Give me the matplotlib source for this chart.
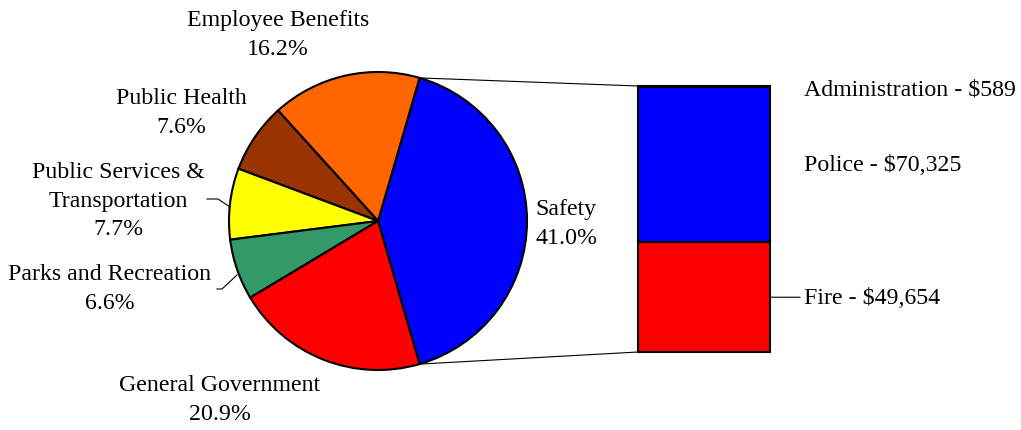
import numpy as np
import matplotlib.pyplot as plt
from matplotlib.patches import ConnectionPatch

# pie data (percent)
categories = ['Safety', 'Employee Benefits', 'Public Health',
              'Public Services &\nTransportation', 'Parks and Recreation',
              'General Government']
shares = [41.0, 16.2, 7.6, 7.7, 6.6, 20.9]
colors = ['#0000FF', '#FF6600', '#993300', '#FFFF00', '#339966', '#FF0000']

# safety breakdown (bottom to top)
sub_names = ['Fire', 'Police', 'Administration']
sub_values = [49654, 70325, 589]
sub_colors = ['#FF0000', '#0000FF', '#0000FF']

plt.rcParams['font.family'] = 'Liberation Serif'
FONT = 17.2
LSP = 1.48
LW = 1.5
H = 431

fig = plt.figure(figsize=(10.21, 4.31), dpi=100)
ax = fig.add_axes([0, 0, 1, 1])

center = (378, H - 222)
radius = 149
start = -shares[0] * 360 / 100 / 2
wedges, _ = ax.pie(shares, colors=colors, startangle=start, counterclock=True,
                   center=center, radius=radius,
                   wedgeprops=dict(edgecolor='black', linewidth=LW))
ax.set_xlim(0, 1021)
ax.set_ylim(0, H)
ax.set_aspect('equal')
ax.axis('off')

# labels (positions in pixels)
label_pos = [(566, 224), (278, 35), (181, 113), (118, 201), (110, 289), (220, 400)]
for name, pct, (x, y) in zip(categories, shares, label_pos):
    ax.text(x, H - y, f'{name}\n{pct:.1f}%', ha='center', va='center',
            fontsize=FONT, linespacing=LSP)

# leader lines
ax.plot([207, 218, 230], [H - 200, H - 200, H - 208], color='black', lw=0.8)
ax.plot([217, 222, 237], [H - 290, H - 290, H - 276], color='black', lw=0.8)

# bar of pie
bx0, bx1, by0, by1 = 638, 770, 87, 353
axb = fig.add_axes([bx0 / 1021, (H - by1) / H, (bx1 - bx0) / 1021, (by1 - by0) / H])
total = sum(sub_values)
bottom = 0
mids = []
for name, val, col in zip(sub_names, sub_values, sub_colors):
    axb.bar(0, val, bottom=bottom, width=1, color=col, edgecolor='black',
            linewidth=LW, clip_on=False)
    mids.append(bottom + val / 2)
    bottom += val
axb.set_xlim(-0.5, 0.5)
axb.set_ylim(0, total)
axb.axis('off')

trans = axb.get_yaxis_transform()
for name, val, mid in zip(sub_names, sub_values, mids):
    label = f'{name} - ${val:,}'
    if name == 'Fire':
        axb.annotate(label, xy=(1.0, mid), xytext=(1.26, mid),
                     textcoords=trans, xycoords=trans,
                     va='center', ha='left', fontsize=FONT,
                     arrowprops=dict(arrowstyle='-', lw=0.8, color='black',
                                     shrinkA=1, shrinkB=0))
    else:
        axb.annotate(label, xy=(1.255, mid), xycoords=trans,
                     xytext=(0, -2 if name == 'Administration' else 0),
                     textcoords='offset points',
                     va='center', ha='left', fontsize=FONT)

# connector lines from safety wedge to bar
w = wedges[0]
for ang, ycorner in [(w.theta2, total), (w.theta1, 0)]:
    px = center[0] + radius * np.cos(np.radians(ang))
    py = center[1] + radius * np.sin(np.radians(ang))
    con = ConnectionPatch(xyA=(px, py), coordsA=ax.transData,
                          xyB=(-0.5, ycorner), coordsB=axb.transData,
                          color='black', lw=0.8)
    fig.add_artist(con)

fig.savefig('out.png', dpi=100)
